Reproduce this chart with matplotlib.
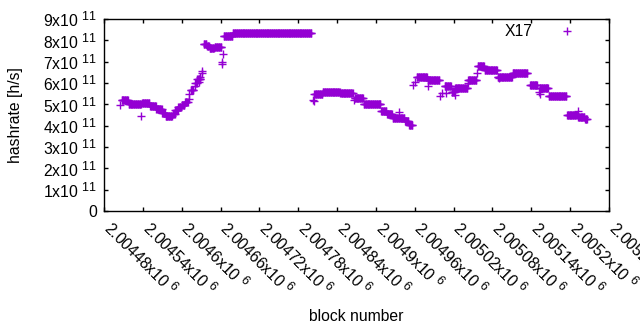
import numpy as np
import matplotlib
matplotlib.use('Agg')
import matplotlib.pyplot as plt
import matplotlib.transforms as mtransforms
from matplotlib.ticker import FixedLocator, FuncFormatter

try:
    import matplotlib._mathtext as _mt
    _mt.SHRINK_FACTOR = 0.8
except Exception:
    pass

plt.rcParams['font.family'] = ['Liberation Sans', 'DejaVu Sans']
plt.rcParams['mathtext.fontset'] = 'custom'
plt.rcParams['mathtext.rm'] = 'Liberation Sans'
plt.rcParams['mathtext.it'] = 'Liberation Sans:italic'
plt.rcParams['mathtext.bf'] = 'Liberation Sans:bold'
plt.rcParams['mathtext.default'] = 'regular'

series_name = 'X17'

# piecewise-constant runs of blocks (hashrate in units of 1e11 h/s)
seg_start = [2004508, 2004518, 2004539, 2004551, 2004561, 2004570, 2004575, 2004586,
             2004590, 2004595, 2004600, 2004605, 2004614, 2004621, 2004624, 2004634,
             2004639, 2004643, 2004651, 2004665, 2004679, 2004805, 2004818, 2004834,
             2004845, 2004855, 2004867, 2004881, 2004908, 2004917, 2004926, 2004945,
             2004951, 2004963, 2004980, 2005006, 2005017, 2005022, 2005042, 2005057,
             2005068, 2005088, 2005111, 2005138, 2005153, 2005167, 2005195, 2005212,
             2005223]
seg_end = [2004518, 2004538, 2004551, 2004561, 2004570, 2004575, 2004586, 2004590,
           2004595, 2004600, 2004605, 2004610, 2004619, 2004624, 2004630, 2004639,
           2004643, 2004651, 2004662, 2004679, 2004801, 2004818, 2004834, 2004845,
           2004855, 2004865, 2004881, 2004908, 2004917, 2004926, 2004945, 2004951,
           2004957, 2004980, 2004999, 2005017, 2005022, 2005042, 2005056, 2005068,
           2005088, 2005111, 2005135, 2005150, 2005167, 2005195, 2005211, 2005223,
           2005227]
seg_value = [5.22, 5.03, 5.08, 4.90, 4.76, 4.60, 4.45, 4.56,
             4.72, 4.88, 4.98, 5.10, 5.66, 6.00, 6.18, 7.85,
             7.72, 7.62, 7.67, 8.18, 8.33, 5.50, 5.57, 5.58,
             5.52, 5.55, 5.32, 5.02, 4.70, 4.55, 4.38, 4.20,
             4.05, 6.28, 6.13, 5.85, 5.60, 5.75, 6.14, 6.80,
             6.62, 6.30, 6.47, 5.90, 5.75, 5.38, 4.50, 4.42,
             4.30]

# isolated points
extra_block = [2004505, 2004508, 2004537, 2004611, 2004612, 2004621, 2004626, 2004628,
               2004631, 2004632, 2004663, 2004663, 2004664, 2004803, 2004804, 2004866,
               2004936, 2004957, 2004960, 2004980, 2004999, 2005002, 2005009, 2005022,
               2005042, 2005056, 2005090, 2005152, 2005153, 2005212]
extra_value = [4.97, 5.20, 4.43, 5.25, 5.48, 5.85, 6.05, 6.30,
               6.45, 6.55, 6.88, 7.00, 7.35, 5.22, 5.15, 5.20,
               4.65, 5.90, 6.05, 5.88, 5.38, 5.55, 5.52, 5.44,
               5.98, 6.48, 6.22, 5.57, 5.50, 4.70]

x_ticks = [2004480, 2004540, 2004600, 2004660, 2004720, 2004780, 2004840,
           2004900, 2004960, 2005020, 2005080, 2005140, 2005200, 2005260]
y_ticks = [0, 1e11, 2e11, 3e11, 4e11, 5e11, 6e11, 7e11, 8e11, 9e11]

blocks = np.concatenate([np.arange(s, e) for s, e in zip(seg_start, seg_end)]
                        + [np.array(extra_block)])
values = np.concatenate([np.full(e - s, v) for s, e, v in zip(seg_start, seg_end, seg_value)]
                        + [np.array(extra_value)]) * 1e11

fig = plt.figure(figsize=(6.4, 3.3), dpi=100)
ax = fig.add_axes([104/640, 1-211/330, 505/640, 192/330])

ax.plot(blocks, values, linestyle='none', marker='+', markersize=5.2,
        markeredgewidth=1.0, color='#9400D3', label=series_name)

ax.set_xlim(2004480, 2005260)
ax.set_ylim(0, 9e11)
ax.xaxis.set_major_locator(FixedLocator(x_ticks))
ax.yaxis.set_major_locator(FixedLocator(y_ticks))

def fmt_x(v, pos):
    return f'{v/1e6:g}x10 $^{{6}}$'

def fmt_y(v, pos):
    if v == 0:
        return '0'
    return f'{v/1e11:g}x10 $^{{11}}$'

ax.xaxis.set_major_formatter(FuncFormatter(fmt_x))
ax.yaxis.set_major_formatter(FuncFormatter(fmt_y))

ax.tick_params(axis='both', direction='in', length=3.2, width=1.0,
               top=True, right=True, labelsize=11.3, colors='black')
ax.tick_params(axis='y', pad=5)
ax.tick_params(axis='x', pad=10)
shift = mtransforms.ScaledTranslation(3/100, 0, fig.dpi_scale_trans)
for lab in ax.get_xticklabels():
    lab.set_rotation(-45)
    lab.set_ha('left')
    lab.set_va('center')
    lab.set_rotation_mode('anchor')
    lab.set_transform(lab.get_transform() + shift)

for sp in ax.spines.values():
    sp.set_linewidth(1.0)
    sp.set_color('black')

ax.set_xlabel('block number', fontsize=11.3, va='center')
ax.xaxis.set_label_coords(0.5, -0.547)
ax.set_ylabel('hashrate [h/s]', fontsize=11.3, va='center')
ax.yaxis.set_label_coords(-0.176, 0.5)

ax.legend(loc='center right', bbox_to_anchor=(0.948, 0.934), frameon=False,
          markerfirst=False, numpoints=1, handlelength=2.0, handletextpad=1.23,
          borderpad=0, borderaxespad=0, fontsize=11.3)

fig.savefig('out.png', dpi=100)
